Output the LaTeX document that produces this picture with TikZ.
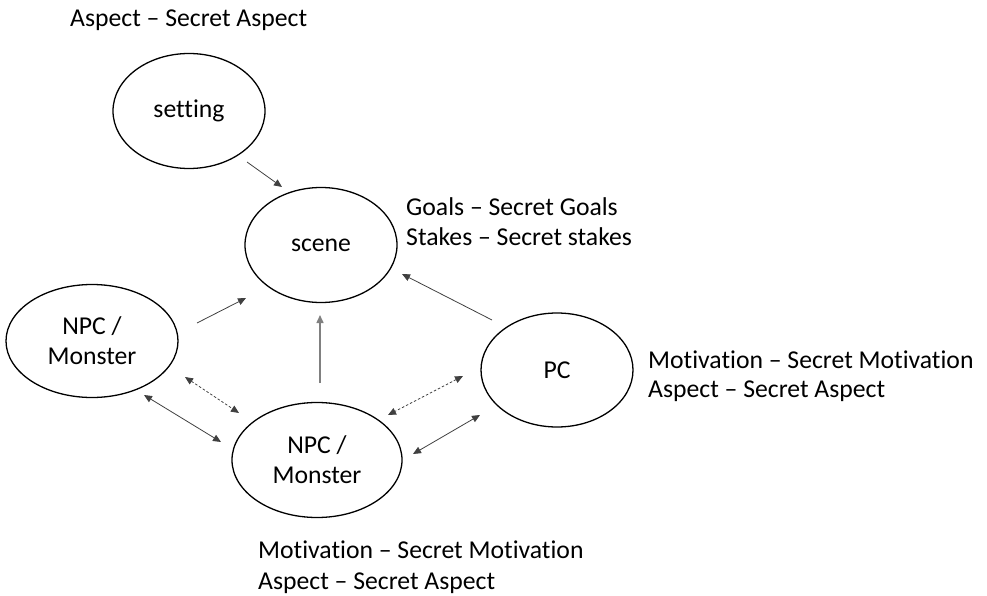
\documentclass[tikz,border=0pt]{standalone}
\usepackage{fontspec}
\setmainfont{Carlito}[Ligatures=NoCommon,RawFeature={-liga;-dlig;-clig}]
\usetikzlibrary{arrows.meta,shapes.geometric}
\begin{document}
\begin{tikzpicture}[x=1pt,y=-1pt,
  every node/.style={font=\fontsize{25.7pt}{30pt}\selectfont},
  blob/.style={ellipse,draw=black,line width=1.3pt,inner sep=0pt,align=center},
  lbl/.style={anchor=base west,inner sep=0pt},
  link/.style={draw=black!75,line width=0.8pt,-{Triangle[length=8pt,width=7pt]},color=black!75},
  dlink/.style={link,{Triangle[length=8pt,width=7pt]}-{Triangle[length=8pt,width=7pt]}},
  dashlink/.style={dlink,dash pattern=on 2.5pt off 2pt},
  vlink/.style={link,draw=black!50,line width=1.5pt}
]
\useasboundingbox (0,0) rectangle (987,596);
% ellipses
\node[blob,minimum width=152pt,minimum height=115pt] (setting) at (189,111) {setting};
\node[blob,minimum width=152pt,minimum height=115pt] (scene) at (321,245) {scene};
\node[blob,minimum width=172pt,minimum height=113pt] (npcl) at (92,341) {NPC /\\Monster};
\node[blob,minimum width=170pt,minimum height=115pt] (npcb) at (317,460) {NPC /\\Monster};
\node[blob,minimum width=152pt,minimum height=114pt] (pc) at (557,370) {PC};
% labels
\node[lbl] (t1) at (70,27) {Aspect -- Secret Aspect};
\node[lbl] (g1) at (406,215) {Goals -- Secret Goals};
\node[lbl] (g2) at (406,245) {Stakes -- Secret stakes};
\node[lbl] (p1) at (648,368) {Motivation -- Secret Motivation};
\node[lbl] (p2) at (648,397) {Aspect -- Secret Aspect};
\node[lbl] (b1) at (258,558) {Motivation -- Secret Motivation};
\node[lbl] (b2) at (258,589) {Aspect -- Secret Aspect};
% connector end points
\coordinate (a1s) at (247,162); \coordinate (a1e) at (282,187);
\coordinate (a2s) at (197,323); \coordinate (a2e) at (246,298);
\coordinate (a3s) at (320,383); \coordinate (a3e) at (320,315);
\coordinate (a4s) at (492,320); \coordinate (a4e) at (402,274);
\coordinate (a5s) at (185,377); \coordinate (a5e) at (239,413);
\coordinate (a6s) at (144,395); \coordinate (a6e) at (221,442);
\coordinate (a7s) at (463,376); \coordinate (a7e) at (388,415);
\coordinate (a8s) at (480,415); \coordinate (a8e) at (413,454);
% connectors
\draw[link] (a1s) -- (a1e);
\draw[link] (a2s) -- (a2e);
\draw[vlink] (a3s) -- (a3e);
\draw[link] (a4s) -- (a4e);
\draw[dashlink] (a5s) -- (a5e);
\draw[dlink] (a6s) -- (a6e);
\draw[dashlink] (a7s) -- (a7e);
\draw[dlink] (a8s) -- (a8e);
\end{tikzpicture}
\end{document}
